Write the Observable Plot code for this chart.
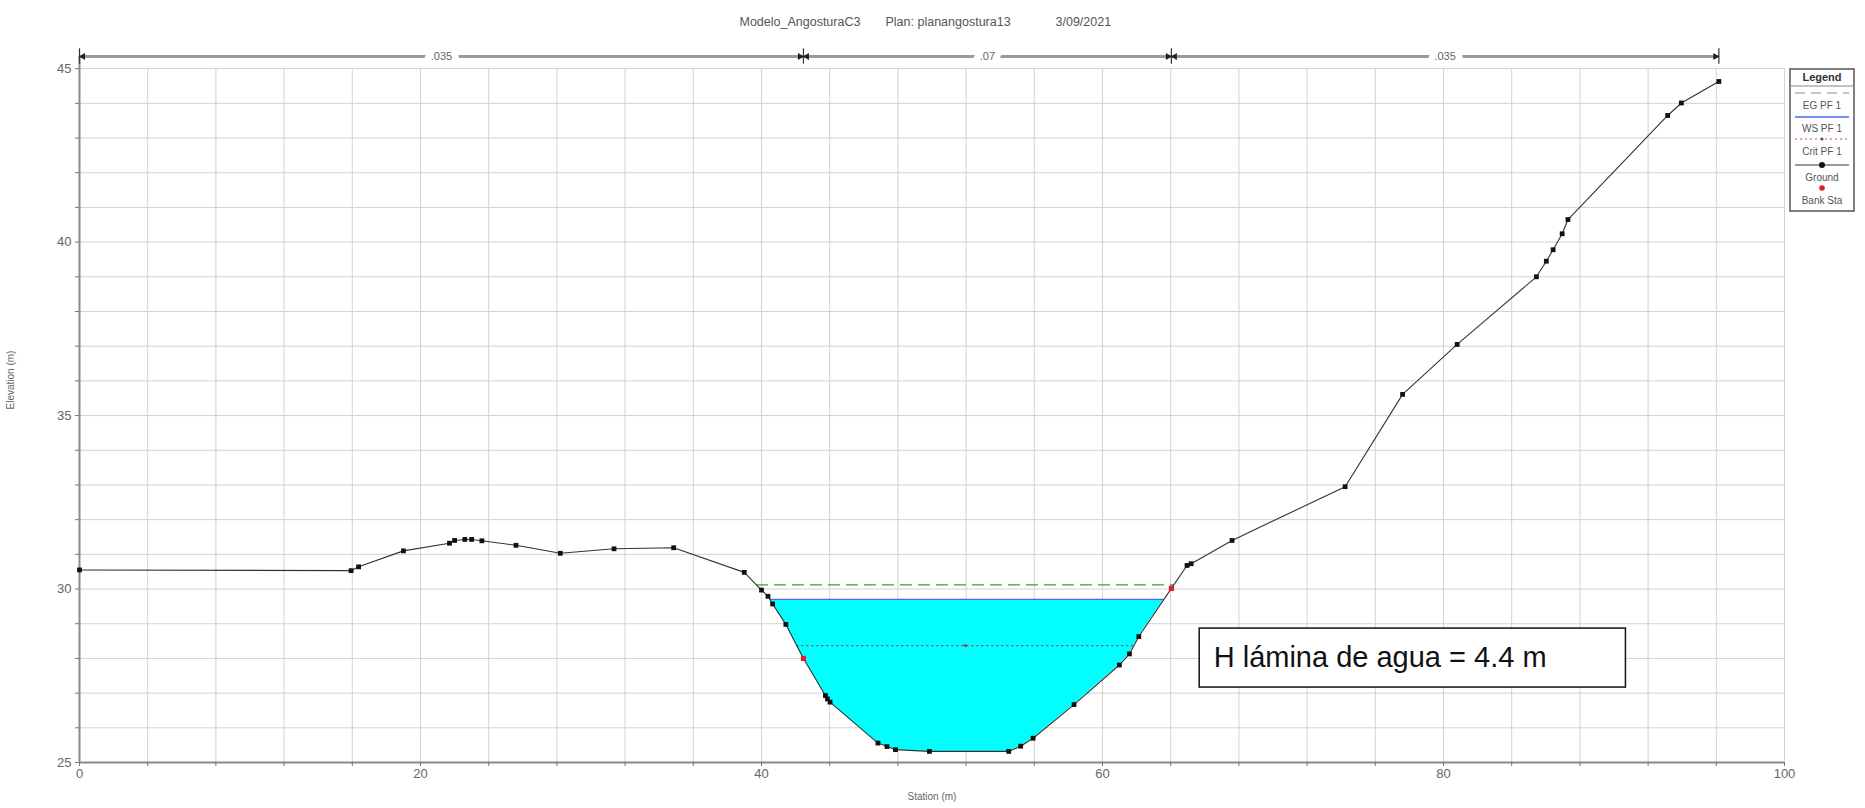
<!DOCTYPE html>
<html><head><meta charset="utf-8">
<script src="https://cdn.jsdelivr.net/npm/d3@7"></script>
<script src="https://cdn.jsdelivr.net/npm/@observablehq/plot@0.6"></script>
<style>
body{margin:0;background:#fff;}
#chart{width:1865px;height:808px;}
</style></head><body><div id="chart"></div>
<script>
// ---- data ----
const groundStation = [0, 15.93, 16.37, 19.0, 21.7, 22.0, 22.6, 23.0, 23.6, 25.6,
  28.2, 31.35, 34.85, 38.99, 40.0, 40.38, 40.65, 41.43, 42.46, 43.75,
  43.87, 44.02, 46.83, 47.36, 47.86, 49.85, 54.5, 55.2, 55.93, 58.33,
  60.99, 61.58, 62.13, 64.04, 64.96, 65.2, 67.6, 74.23, 77.6, 80.8,
  85.45, 86.03, 86.43, 86.96, 87.3, 93.15, 93.95, 96.15];
const groundElev = [30.55, 30.53, 30.64, 31.10, 31.32, 31.40, 31.43, 31.43, 31.39, 31.26,
  31.03, 31.16, 31.19, 30.48, 29.97, 29.79, 29.57, 28.98, 28.0, 26.93,
  26.83, 26.74, 25.56, 25.46, 25.37, 25.32, 25.32, 25.47, 25.70, 26.67,
  27.81, 28.13, 28.63, 30.02, 30.68, 30.73, 31.4, 32.95, 35.61, 37.05,
  39.0, 39.45, 39.78, 40.24, 40.65, 43.65, 44.01, 44.63];
const bankStations = [42.46, 64.04];
const wsElev = 29.70;    // WS PF 1
const egElev = 30.12;    // EG PF 1
const critElev = 28.37;  // Crit PF 1
const nBreaks = [0, 42.46, 64.04, 96.15];
const nValues = [".035", ".07", ".035"];
const xTickLabels = [0, 20, 40, 60, 80, 100];
const yTickLabels = [25, 30, 35, 40, 45];
const titleParts = ["Modelo_AngosturaC3", "Plan: planangostura13", "3/09/2021"];
const xLabel = "Station (m)";
const yLabel = "Elevation (m)";
const annotationText = "H lámina de agua = 4.4 m";
const annotationBox = {x1: 65.7, x2: 90.7, y1: 27.16, y2: 28.86};
const legendItems = ["EG PF 1", "WS PF 1", "Crit PF 1", "Ground", "Bank Sta"];

// ---- derived ----
const ground = groundStation.map((x, i) => ({x, y: groundElev[i]}));
const banks = bankStations.map(s => ground.find(g => g.x === s));
function crossings(level) {
  const r = [];
  for (let i = 0; i < ground.length - 1; i++) {
    const a = ground[i], b = ground[i + 1];
    if ((a.y - level) * (b.y - level) < 0) r.push(a.x + (level - a.y) / (b.y - a.y) * (b.x - a.x));
  }
  return [r[0], r[r.length - 1]];
}
const [wsL, wsR] = crossings(wsElev);
const [egL, egR] = crossings(egElev);
const [crL, crR] = crossings(critElev);
const water = [{x: wsL, y: wsElev}, ...ground.filter(d => d.x > wsL && d.x < wsR), {x: wsR, y: wsElev}];
const nSegs = nValues.map((v, i) => ({x: (nBreaks[i] + nBreaks[i + 1]) / 2, v}));
const yTop = 45.35;
const font = "'Liberation Sans', Arial, sans-serif";
const narrow = "'Liberation Sans Narrow', 'Arial Narrow', 'Liberation Sans', Arial, sans-serif";

const plot = Plot.plot({
  width: 1865, height: 808,
  marginLeft: 79, marginRight: 81, marginTop: 56, marginBottom: 46,
  x: {domain: [0, 100]},
  y: {domain: [25, yTop]},
  style: {fontFamily: font, fontSize: "12px", color: "#555", background: "white", overflow: "visible"},
  marks: [
    // grid
    Plot.ruleY(d3.range(26, 46, 1), {stroke: "#d2d2d2", strokeOpacity: 1, strokeWidth: 1}),
    Plot.ruleX(d3.range(4, 101, 4), {y1: 25, y2: 45, stroke: "#d2d2d2", strokeOpacity: 1, strokeWidth: 1}),
    // water
    Plot.areaY(water, {x: "x", y1: "y", y2: () => wsElev, fill: "#00ffff", fillOpacity: 1}),
    Plot.ruleY([wsElev], {x1: wsL, x2: wsR, stroke: "#4a6ae8", strokeWidth: 1.3}),
    Plot.ruleY([egElev], {x1: egL, x2: egR, stroke: "#3f9a3a", strokeWidth: 1.2, strokeDasharray: "12,6"}),
    Plot.ruleY([critElev], {x1: crL, x2: crR, stroke: "#b03050", strokeWidth: 1.2, strokeDasharray: "2,3"}),
    Plot.dot([{x: (crL + crR) / 2, y: critElev}], {x: "x", y: "y", r: 1.5, fill: "#b03050"}),
    // axes lines
    Plot.ruleY([25], {stroke: "#8a8a8a", strokeWidth: 2}),
    Plot.ruleX([0], {y1: 25, y2: yTop, stroke: "#8a8a8a", strokeWidth: 2}),
    Plot.axisX(d3.range(0, 101, 4), {tickSize: 4, tickFormat: () => "", stroke: "#777"}),
    Plot.axisY(d3.range(25, 46, 1), {tickSize: 4, tickFormat: () => "", stroke: "#777"}),
    Plot.axisX(xTickLabels, {tickSize: 0, tickPadding: 6, fontSize: 13, fontFamily: narrow, fill: "#666", label: null}),
    Plot.axisY(yTickLabels, {tickSize: 0, tickPadding: 8, fontSize: 13, fontFamily: narrow, fill: "#666", label: null}),
    // ground
    Plot.line(ground, {x: "x", y: "y", stroke: "#333", strokeWidth: 1.1}),
    Plot.dot(ground, {x: "x", y: "y", symbol: "square", r: 2.7, fill: "#111"}),
    Plot.dot(banks, {x: "x", y: "y", symbol: "square", r: 2.9, fill: "#e01e3c"}),
    // n-value bar
    Plot.ruleY([yTop], {x1: nBreaks[0], x2: nBreaks[nBreaks.length - 1], stroke: "#9a9a9a", strokeWidth: 3}),
    Plot.ruleX(nBreaks, {x: d => d, y1: yTop - 0.22, y2: yTop + 0.22, stroke: "#333", strokeWidth: 1.2}),
    Plot.dot(nBreaks.slice(1), {x: d => d, y: yTop, symbol: "triangle", rotate: 90, dx: -3.5, r: 2.6, fill: "#222"}),
    Plot.dot(nBreaks.slice(0, -1), {x: d => d, y: yTop, symbol: "triangle", rotate: -90, dx: 3.5, r: 2.6, fill: "#222"}),
    Plot.text(nSegs, {x: "x", y: yTop, text: "v", fontSize: 11, fill: "#666", stroke: "white", strokeWidth: 14}),
    // annotation
    Plot.rect([annotationBox], {x1: "x1", x2: "x2", y1: "y1", y2: "y2", fill: "white", stroke: "#111", strokeWidth: 1.5}),
    Plot.text([annotationText], {x: annotationBox.x1, y: (annotationBox.y1 + annotationBox.y2) / 2, dx: 14, text: d => d, textAnchor: "start", fontSize: 29, fill: "#111", fontFamily: font}),
    // titles
    Plot.text([titleParts[0]], {frameAnchor: "top-left", dx: 660, dy: -39, text: d => d, textAnchor: "start", fontSize: 12.5, fill: "#555"}),
    Plot.text([titleParts[1]], {frameAnchor: "top-left", dx: 806, dy: -39, text: d => d, textAnchor: "start", fontSize: 12.5, fill: "#555"}),
    Plot.text([titleParts[2]], {frameAnchor: "top-left", dx: 976, dy: -39, text: d => d, textAnchor: "start", fontSize: 12.5, fill: "#555"}),
    Plot.text([xLabel], {frameAnchor: "bottom", dy: 37, text: d => d, fontSize: 10, fill: "#666"}),
    Plot.text([yLabel], {frameAnchor: "left", dx: -69, rotate: -90, text: d => d, fontSize: 10, fill: "#666"})
  ]
});

// legend box (decoration)
const svg = d3.select(plot);
const g = svg.append("g").attr("font-family", font).attr("font-size", 10).attr("fill", "#555");
const lx = 1790, lw = 64, ly = 69, lh = 142, cx = lx + lw / 2;
g.append("rect").attr("x", lx).attr("y", ly).attr("width", lw).attr("height", lh)
  .attr("fill", "white").attr("stroke", "#555").attr("stroke-width", 1.5);
g.append("text").attr("x", cx).attr("y", 77).attr("dy", "0.35em").attr("text-anchor", "middle")
  .attr("font-weight", "bold").attr("font-size", 11).attr("fill", "#333").text("Legend");
g.append("line").attr("x1", lx).attr("x2", lx + lw).attr("y1", 86).attr("y2", 86).attr("stroke", "#888");
const sampleY = [93, 117, 139, 165, 188];
const textY = [105, 128, 151, 177, 200];
const sx1 = lx + 5, sx2 = lx + lw - 5;
g.append("line").attr("x1", sx1).attr("x2", sx2).attr("y1", sampleY[0]).attr("y2", sampleY[0])
  .attr("stroke", "#7aa070").attr("stroke-dasharray", "10,6").attr("stroke-width", 1.2);
g.append("line").attr("x1", sx1).attr("x2", sx2).attr("y1", sampleY[1]).attr("y2", sampleY[1])
  .attr("stroke", "#4a6ae8").attr("stroke-width", 1.3);
g.append("line").attr("x1", sx1).attr("x2", sx2).attr("y1", sampleY[2]).attr("y2", sampleY[2])
  .attr("stroke", "#d04060").attr("stroke-dasharray", "2,3").attr("stroke-width", 1.2);
g.append("circle").attr("cx", cx).attr("cy", sampleY[2]).attr("r", 1.6).attr("fill", "#555");
g.append("line").attr("x1", sx1).attr("x2", sx2).attr("y1", sampleY[3]).attr("y2", sampleY[3])
  .attr("stroke", "#333").attr("stroke-width", 1.2);
g.append("circle").attr("cx", cx).attr("cy", sampleY[3]).attr("r", 3).attr("fill", "#111");
g.append("circle").attr("cx", cx).attr("cy", sampleY[4]).attr("r", 2.8).attr("fill", "#e01e3c");
legendItems.forEach((t, i) => {
  g.append("text").attr("x", cx).attr("y", textY[i]).attr("dy", "0.35em").attr("text-anchor", "middle").text(t);
});

document.getElementById("chart").appendChild(plot);
</script>
</body></html>
